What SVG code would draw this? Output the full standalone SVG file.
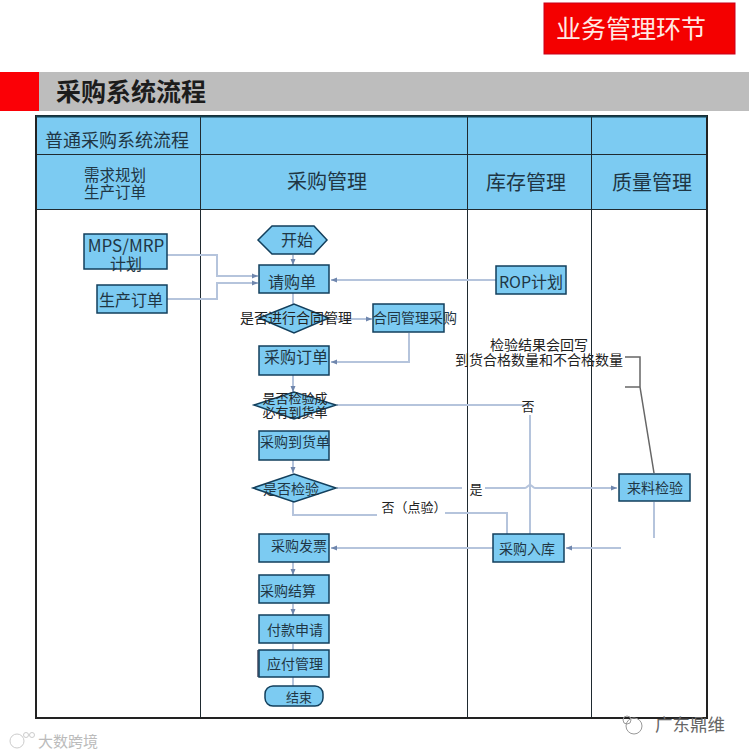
<svg xmlns="http://www.w3.org/2000/svg" width="749" height="756" viewBox="0 0 749 756">
<style>
text{font-family:"Noto Sans CJK SC","Liberation Sans",sans-serif;text-anchor:middle;fill:#1f3644}
.n{fill:#7ccbf2;stroke:#123f5c;stroke-width:1.5}
.t{font-size:14px}
.m{font-size:16px}
.k{fill:#222;font-size:14px}
.h{font-size:20px}
.g{fill:none;stroke:#1f2a30;stroke-width:1}
.c{fill:none;stroke:#b5c4dc;stroke-width:2}
.a{fill:none;stroke:#b5c4dc;stroke-width:2;marker-end:url(#ar)}
</style>
<defs>
<marker id="ar" markerWidth="7" markerHeight="7" refX="6" refY="3" orient="auto" markerUnits="userSpaceOnUse"><path d="M0,0.500L6,3L0,5.500z" fill="#6f86ad"/></marker>
</defs>
<rect width="749" height="756" fill="#fff"/>
<g id="title-tag"><rect x="544" y="3" width="191" height="51" fill="#f40000" stroke="#c8001a"/><text x="631" y="38" font-size="25" style="fill:#ffe9e4">业务管理环节</text></g>
<g id="title-bar"><rect x="0" y="72" width="39" height="39" fill="#fb0006"/><rect x="39" y="72" width="710" height="39" fill="#bdbdbd"/><text x="131" y="101" font-size="25" font-weight="700" style="fill:#1c1c1c">采购系统流程</text></g>
<g id="table">
<rect x="36" y="116" width="671" height="93" fill="#7ccbf2"/>
<path class="g" d="M36,154.500H707M36,209.500H707M200.500,116V718M467.500,116V718M591.500,116V718"/>
<rect x="36" y="116" width="671" height="602" fill="none" stroke="#222" stroke-width="2"/>
<path d="M36,116.500H707" stroke="#123f4f" stroke-width="2"/>
<text x="117" y="147" font-size="18">普通采购系统流程</text>
<text x="115" y="181" font-size="15.500">需求规划</text><text x="115" y="198" font-size="15.500">生产订单</text>
<text x="327" y="189" class="h">采购管理</text><text x="526" y="190" class="h">库存管理</text><text x="652" y="190" class="h">质量管理</text>
</g>
<g id="connectors">
<path class="a" d="M293,255V265"/>
<path class="a" d="M167,255H217V276H258"/>
<path class="a" d="M167,299H217V283H258"/>
<path class="a" d="M496,280H331"/>
<path class="c" d="M293,293V304"/>
<path class="a" d="M335,319H372"/>
<path class="a" d="M409,333V362H331"/>
<path class="a" d="M293,375V392"/>
<path class="c" d="M337,405H530"/>
<path class="c" d="M530,415V534"/>
<path class="a" d="M293,460V473"/>
<path class="c" d="M337,488H462M485,488H525C527,488 528,485 530,485C532,485 533,488 535,488"/>
<path class="a" d="M535,488H617"/>
<path class="c" d="M293,502V515H377M445,513H507V534"/>
<path class="a" d="M493,548H331"/>
<path class="a" d="M621,548H566"/>
<path class="a" d="M293,562V575"/>
<path class="a" d="M293,604V615"/>
<path class="c" d="M293,644V650"/>
<path class="c" d="M293,677V686"/>
<path class="c" d="M654,502V538"/>
<path d="M625,357H640V387L654,473" fill="none" stroke="#666" stroke-width="1.500"/>
<path d="M625,387H640" fill="none" stroke="#666" stroke-width="1.500"/>
</g>
<g id="mps"><rect class="n" x="84" y="234" width="83" height="35"/><text x="126" y="252" font-size="17">MPS/MRP</text><text class="m" x="126" y="270">计划</text></g>
<g id="order"><rect class="n" x="97" y="285" width="70" height="28"/><text class="m" x="131" y="306">生产订单</text></g>
<g id="start"><path class="n" d="M258,240L272,226H314L327,240L314,254H272z"/><text class="m" x="297" y="246">开始</text></g>
<g id="request"><rect class="n" x="259" y="265" width="70" height="28"/><text class="m" x="292" y="288">请购单</text></g>
<g id="contract-check"><path class="n" d="M259,318L294,304L329,318L294,333z"/><text class="k" x="296" y="323">是否进行合同管理</text></g>
<g id="contract"><rect class="n" x="373" y="304" width="71" height="28"/><text class="t" x="415" y="323">合同管理采购</text></g>
<g id="po"><rect class="n" x="259" y="346" width="70" height="29"/><text class="m" x="296" y="363">采购订单</text></g>
<g id="arrival-check"><path class="n" d="M254,405L294,392L336,405L294,419z"/><text x="295" y="403" font-size="13" style="fill:#222">是否检验成</text><text x="295" y="417" font-size="13" style="fill:#222">必有到货单</text></g>
<g id="arrival"><rect class="n" x="259" y="431" width="70" height="29"/><text class="t" x="295" y="447">采购到货单</text></g>
<g id="inspect-check"><path class="n" d="M253,488L294,474L336,488L294,502z"/><text class="t" x="291" y="494">是否检验</text></g>
<g id="invoice"><rect class="n" x="259" y="534" width="70" height="28"/><text class="t" x="299" y="551">采购发票</text></g>
<g id="settle"><rect class="n" x="259" y="575" width="70" height="28"/><text class="t" x="288" y="596">采购结算</text></g>
<g id="payment"><rect class="n" x="259" y="615" width="70" height="28"/><text class="t" x="295" y="635">付款申请</text></g>
<g id="payable"><rect x="257" y="650" width="6" height="27" fill="#778"/><rect class="n" x="259" y="650" width="70" height="27"/><text class="t" x="295" y="669">应付管理</text></g>
<g id="end"><rect class="n" x="265" y="686" width="58" height="20" rx="8"/><text x="299" y="702" font-size="13">结束</text></g>
<g id="rop"><rect class="n" x="496" y="266" width="70" height="28"/><text class="m" x="531" y="288">ROP计划</text></g>
<g id="warehouse"><rect class="n" x="493" y="534" width="71" height="28"/><text class="t" x="527" y="554">采购入库</text></g>
<g id="incoming"><rect class="n" x="619" y="474" width="71" height="27"/><text class="t" x="655" y="493">来料检验</text></g>
<g id="labels">
<text x="539" y="350" class="k">检验结果会回写</text>
<text x="539" y="365" class="k">到货合格数量和不合格数量</text>
<text x="528" y="411" font-size="13" style="fill:#222">否</text>
<text x="476" y="494" font-size="13" style="fill:#222">是</text>
<text x="414" y="512" font-size="13" style="fill:#222">否（点验）</text>
</g>
<g id="watermarks">
<text x="690" y="731" font-size="17.500" style="fill:#666">广东鼎维</text>
<circle cx="634" cy="726" r="8" fill="none" stroke="#999"/>
<circle cx="627" cy="720" r="4" fill="none" stroke="#999"/>
<text x="68" y="747" font-size="15" style="fill:#bbb">大数跨境</text>
<circle cx="17" cy="741" r="7" fill="none" stroke="#ccc"/>
<circle cx="26" cy="735" r="2.500" fill="none" stroke="#ccc"/>
<circle cx="32" cy="735" r="2.500" fill="none" stroke="#ccc"/>
</g>
</svg>
